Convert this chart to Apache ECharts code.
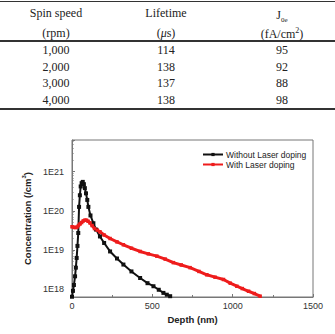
<!DOCTYPE html>
<html>
<head>
<meta charset="utf-8">
<script src="https://cdn.jsdelivr.net/npm/echarts@6/dist/echarts.min.js"></script>
<style>
  html, body { margin: 0; padding: 0; background: #fff; }
  #wrap { position: relative; width: 335px; height: 334px; overflow: hidden; }
  #chart { position: absolute; left: 0; top: 0; width: 335px; height: 334px; }
  /* 表格部分 */
  #table { position: absolute; left: 0; top: 0; width: 335px; height: 120px; z-index: 2;
    font-family: "Liberation Serif", "DejaVu Serif", serif; font-size: 12px; color: #222; }
  .cell { position: absolute; width: 110px; text-align: center; line-height: 14px; }
  .rule { position: absolute; left: 0; width: 335px; background: #333; }
</style>
</head>
<body>
<div id="wrap">
  <div id="chart"></div>
  <div id="table"></div>
</div>
<script>
// 表格数据
const spinSpeeds = ['1,000', '2,000', '3,000', '4,000'];
const lifetimes = [114, 138, 137, 138];
const j0eValues = [95, 92, 88, 98];

// 曲线数据 (深度 nm / 浓度 cm^-3)
const depthWithout = [0, 6, 12, 19, 24, 29, 34, 39, 44, 49, 54, 60, 67, 74, 80, 87, 95, 102, 115, 133,
  150, 174, 200, 237, 280, 320, 370, 424, 470, 507, 540, 569, 590, 611];
const concWithout = [6.3e17, 8.9e17, 1.26e18, 2.1e18, 3.5e18, 6.2e18, 1.26e19, 2.7e19, 1.26e20, 2.5e20,
  4.2e20, 5.1e20, 5.5e20, 4.8e20, 3.8e20, 2.8e20, 1.9e20, 1.26e20, 7.6e19, 4.8e19,
  3.3e19, 2.2e19, 1.5e19, 9.1e18, 6.0e18, 4.2e18, 2.8e18, 1.9e18, 1.4e18, 1.17e18, 9.5e17, 7.9e17, 7.1e17, 6.5e17];
const depthWith = [0, 10, 20, 30, 40, 50, 60, 70, 80, 90, 100, 112, 125, 140, 157, 174, 200, 237, 280, 320,
  370, 424, 475, 528, 580, 631, 680, 735, 790, 839, 890, 943, 985, 1026, 1060, 1099, 1135, 1171];
const concWith = [3.9e19, 3.8e19, 3.7e19, 3.8e19, 4.2e19, 4.6e19, 5.0e19, 5.5e19, 5.75e19, 5.75e19,
  5.4e19, 4.9e19, 4.2e19, 3.5e19, 3.2e19, 2.9e19, 2.4e19, 1.95e19, 1.6e19, 1.35e19,
  1.1e19, 9.1e18, 7.9e18, 6.9e18, 5.8e18, 4.7e18, 4.1e18, 3.5e18, 2.8e18, 2.3e18,
  2.0e18, 1.74e18, 1.4e18, 1.17e18, 1.02e18, 8.7e17, 7.6e17, 6.5e17];
const xTicks = [0, 500, 1000, 1500];
const seriesNames = ['Without Laser doping', 'With Laser doping'];

// 画表格
const table = document.getElementById('table');
function addCell(html, cx, cy) {
  const d = document.createElement('div');
  d.className = 'cell';
  d.style.left = (cx - 55) + 'px';
  d.style.top = (cy - 7) + 'px';
  d.innerHTML = html;
  table.appendChild(d);
}
function addRule(y, h) {
  const d = document.createElement('div');
  d.className = 'rule';
  d.style.top = y + 'px';
  d.style.height = h + 'px';
  table.appendChild(d);
}
const colX = [56, 166, 282];
addRule(1, 1);
addRule(39.5, 2.5);
addRule(108, 1.5);
addCell('Spin speed', colX[0], 13);
addCell('(rpm)', colX[0], 33);
addCell('Lifetime', colX[1], 13);
addCell('(<i>&mu;</i>s)', colX[1], 33);
addCell('J<sub style="font-size:7px">0e</sub>', colX[2], 15);
addCell('(fA/cm<sup style="font-size:8px">2</sup>)', colX[2], 31);
spinSpeeds.forEach((s, i) => {
  const y = 50 + i * 16.7;
  addCell(s, colX[0], y);
  addCell(String(lifetimes[i]), colX[1], y);
  addCell(String(j0eValues[i]), colX[2], y);
});

// 画图
const chart = echarts.init(document.getElementById('chart'), null, { renderer: 'svg' });
const axisColor = '#777';
const labelFont = { fontFamily: 'Liberation Sans, Arial, sans-serif', fontSize: 9, color: '#333' };
chart.setOption({
  animation: false,
  legend: {
    data: seriesNames,
    orient: 'vertical',
    left: 197,
    top: 145,
    itemWidth: 20,
    itemHeight: 4,
    itemGap: 1,
    textStyle: { fontFamily: 'Liberation Sans, Arial, sans-serif', fontSize: 8.5, color: '#222', padding: [0, 0, 0, -2] }
  },
  grid: {
    left: 72, top: 140, right: 22, bottom: 37,
    show: true, borderColor: axisColor, borderWidth: 1
  },
  xAxis: {
    type: 'value',
    min: 0, max: 1500, interval: 500,
    name: 'Depth (nm)',
    nameLocation: 'middle',
    nameGap: 17,
    nameTextStyle: { fontFamily: 'Liberation Sans, Arial, sans-serif', fontSize: 9.5, fontWeight: 'bold', color: '#222' },
    axisLine: { lineStyle: { color: axisColor } },
    axisTick: { inside: true, length: 3, lineStyle: { color: axisColor } },
    minorTick: { show: true, splitNumber: 2, length: 2, lineStyle: { color: axisColor } },
    splitLine: { show: false },
    axisLabel: Object.assign({ margin: 4, formatter: v => xTicks.includes(v) ? String(v) : '' }, labelFont)
  },
  yAxis: {
    type: 'log',
    logBase: 10,
    min: 6.2e17, max: 6.5e21,
    name: '{a|Concentration (/cm}{s|3}{a|)}',
    nameLocation: 'middle',
    nameGap: 27,
    nameTextStyle: {
      rich: {
        a: { fontFamily: 'Liberation Sans, Arial, sans-serif', fontSize: 9.5, fontWeight: 'bold', color: '#222' },
        s: { fontFamily: 'Liberation Sans, Arial, sans-serif', fontSize: 6, fontWeight: 'bold', color: '#222', verticalAlign: 'top', padding: [0, 0, 6, 0] }
      }
    },
    axisLine: { lineStyle: { color: axisColor } },
    axisTick: { inside: true, length: 3, lineStyle: { color: axisColor } },
    minorTick: { show: true, splitNumber: 9, length: 1.5, lineStyle: { color: axisColor } },
    splitLine: { show: false },
    axisLabel: Object.assign({
      margin: 8,
      formatter: v => {
        const e = Math.log10(v);
        return Math.abs(e - Math.round(e)) < 1e-6 ? '1E' + Math.round(e) : '';
      }
    }, labelFont)
  },
  series: [
    {
      name: seriesNames[0],
      type: 'line',
      data: depthWithout.map((d, i) => [d, concWithout[i]]),
      symbol: 'rect',
      symbolSize: 4,
      lineStyle: { color: '#111', width: 2 },
      itemStyle: { color: '#111' },
      clip: true
    },
    {
      name: seriesNames[1],
      type: 'line',
      data: depthWith.map((d, i) => [d, concWith[i]]),
      symbol: 'rect',
      symbolSize: 3.5,
      lineStyle: { color: '#ee1c1c', width: 3 },
      itemStyle: { color: '#ee1c1c' },
      clip: true
    }
  ]
});
</script>
</body>
</html>
